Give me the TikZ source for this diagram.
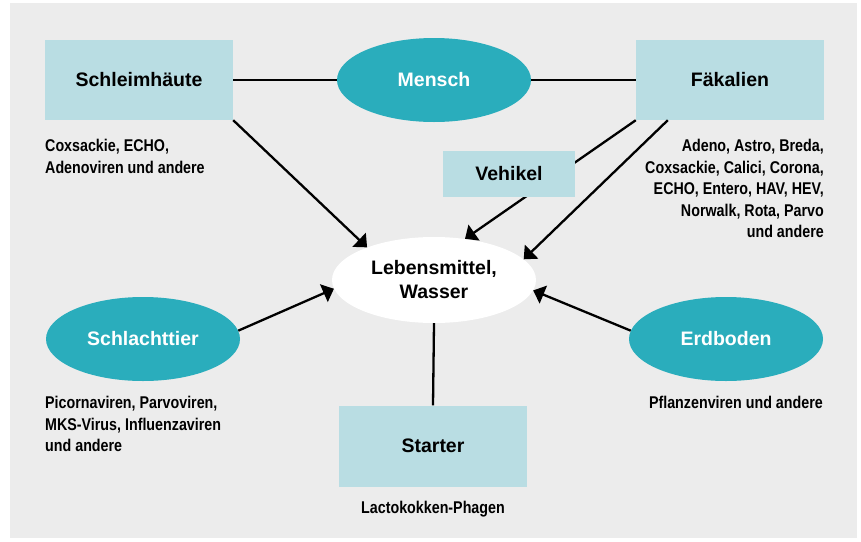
\documentclass[tikz,border=0pt]{standalone}
\usepackage{fontspec}
\setmainfont{Liberation Sans}
\newfontfamily\notefont[FakeStretch=0.84]{Liberation Sans}
\usetikzlibrary{arrows.meta,shapes.geometric}
\definecolor{panelgray}{HTML}{ECECEC}
\definecolor{vteal}{HTML}{2AADBC}
\definecolor{vbox}{HTML}{B9DDE3}
\begin{document}
\begin{tikzpicture}[x=1pt,y=-1pt,
  labelfont/.style={font=\fontsize{19.5}{24}\selectfont\bfseries},
  srcbox/.style={labelfont, fill=vbox, draw=none, minimum width=188pt, minimum height=80pt, inner sep=0pt},
  srcoval/.style={labelfont, ellipse, fill=vteal, text=white, minimum width=194pt, minimum height=84pt, inner sep=0pt},
  note/.style={font=\notefont\bfseries\fontsize{17}{21.5}\selectfont, inner sep=0pt},
  link/.style={line width=2.3pt},
  flow/.style={link, -{Triangle[length=11pt,width=19pt]}}]
\useasboundingbox (0,0) rectangle (861,541);
\fill[panelgray] (10,3) rectangle (857,538);

% sources and target
\node[srcbox] (schleim) at (139,80) {Schleimhäute};
\node[srcoval] (mensch) at (434,80) {Mensch};
\node[srcbox] (faek) at (730,80) {Fäkalien};
\node[labelfont, ellipse, fill=white, minimum width=204pt, minimum height=86pt,
      inner sep=0pt, align=center] (leben) at (434,280) {Lebensmittel,\\Wasser};
\node[srcoval] (schlacht) at (143,339) {Schlachttier};
\node[srcoval] (erd) at (726,339) {Erdboden};
\node[srcbox, minimum height=81pt] (starter) at (433,446) {Starter};

% virus lists
\node[note, anchor=north west, align=left] (nschleim) at (45,139)
  {Coxsackie, ECHO,\\Adenoviren und andere};
\node[note, anchor=north east, align=right] (nfaek) at (824,139)
  {Adeno, Astro, Breda,\\Coxsackie, Calici, Corona,\\ECHO, Entero, HAV, HEV,\\Norwalk, Rota, Parvo\\und andere};
\node[note, anchor=north west, align=left] (nschlacht) at (45,396)
  {Picornaviren, Parvoviren,\\MKS-Virus, Influenzaviren\\und andere};
\node[note, anchor=north east] (nerd) at (823,396) {Pflanzenviren und andere};
\node[note, anchor=north] (nstarter) at (433,501) {Lactokokken-Phagen};

% connectors
\draw[link] (schleim.east) -- (mensch.west);
\draw[link] (mensch.east) -- (faek.west);
\draw[flow] (schleim.south east) -- (leben.154);
\draw[flow] (faek.south west) -- (leben.53);
\draw[flow] ([xshift=32pt]faek.south west) -- (leben.13);
\draw[flow] (schlacht.5) -- (leben.185);
\draw[flow] (erd.175) -- (leben.354);
\draw[link] (starter.north) -- (leben.south);

% the vehicle box sits over the faecal route
\node[labelfont, fill=vbox, minimum width=132pt, minimum height=46pt, inner sep=0pt] (vehikel) at (509,174) {Vehikel};
\end{tikzpicture}
\end{document}
